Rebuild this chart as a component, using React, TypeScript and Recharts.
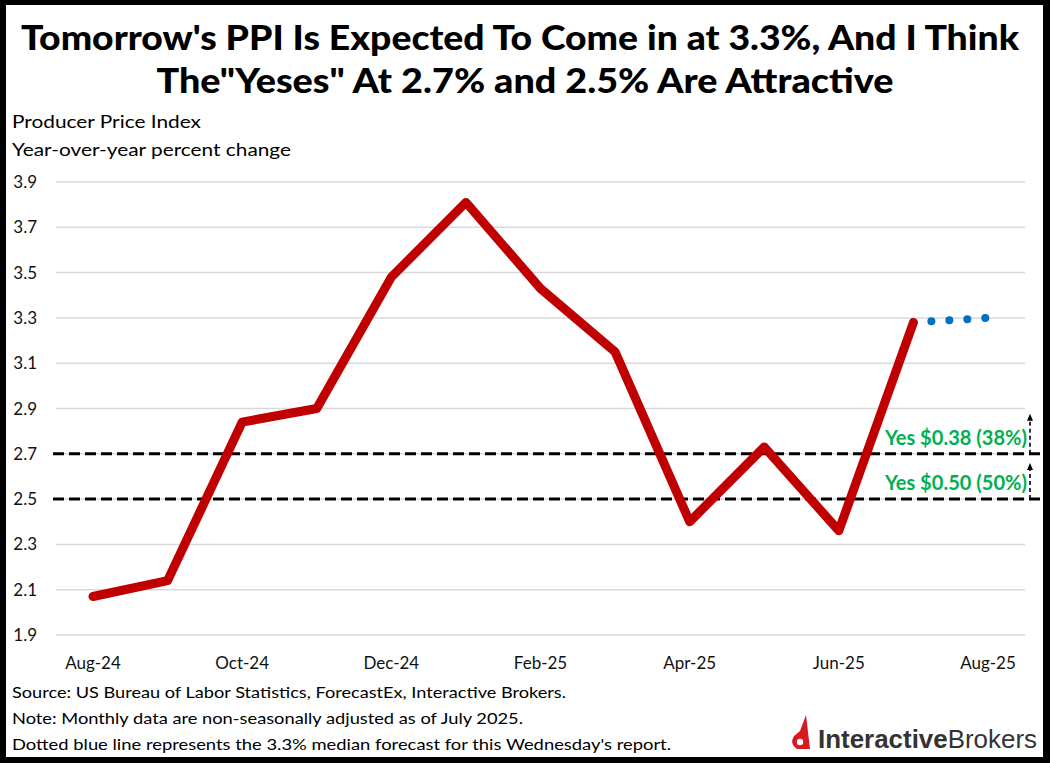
import { LineChart, Line, XAxis, YAxis, CartesianGrid, ReferenceLine } from 'recharts';

// monthly PPI y/y
const months = [
  'Aug-24', 'Sep-24', 'Oct-24', 'Nov-24', 'Dec-24', 'Jan-25', 'Feb-25',
  'Mar-25', 'Apr-25', 'May-25', 'Jun-25', 'Jul-25', 'Aug-25',
];
const ppiValues = [2.07, 2.14, 2.84, 2.9, 3.48, 3.81, 3.43, 3.15, 2.4, 2.73, 2.36, 3.28, null];
const forecastValues = [null, null, null, null, null, null, null, null, null, null, null, 3.28, 3.3];

const xTicks = ['Aug-24', 'Oct-24', 'Dec-24', 'Feb-25', 'Apr-25', 'Jun-25', 'Aug-25'];
const yTicks = [1.9, 2.1, 2.3, 2.5, 2.7, 2.9, 3.1, 3.3, 3.5, 3.7, 3.9];

const yesLevels = [2.7, 2.5];
const yesLabels = ['Yes $0.38 (38%)', 'Yes $0.50 (50%)'];
const yesArrowHeights = [40, 36];

const titleLines = [
  "Tomorrow's PPI Is Expected To Come in at 3.3%, And I Think",
  'The"Yeses" At 2.7% and 2.5% Are Attractive',
];
const subtitleLines = ['Producer Price Index', 'Year-over-year percent change'];
const footerLines = [
  'Source: US Bureau of Labor Statistics, ForecastEx, Interactive Brokers.',
  'Note: Monthly data are non-seasonally adjusted as of July 2025.',
  "Dotted blue line represents the 3.3% median forecast for this Wednesday's report.",
];

const data = months.map((m, i) => ({ month: m, ppi: ppiValues[i], forecast: forecastValues[i] }));

const FONT = 'Lato, "Open Sans", sans-serif';

function yesLine(label: string, arrowH: number) {
  return (props: any) => {
    const { x1, y1, x2 } = props;
    const ax = x2 + 5;
    return (
      <g>
        <line x1={x1 - 3} y1={y1} x2={x2 + 18} y2={y1} stroke="#000" strokeWidth={3} strokeDasharray="11 5" />
        <line x1={ax} y1={y1} x2={ax} y2={y1 - arrowH + 6} stroke="#000" strokeWidth={1.6} strokeDasharray="4 3" />
        <polygon points={`${ax - 3},${y1 - arrowH + 7} ${ax + 3},${y1 - arrowH + 7} ${ax},${y1 - arrowH}`} fill="#000" />
        <text
          x={x2 + 2}
          y={y1 - 9}
          textAnchor="end"
          fill="#00B050"
          fontFamily={FONT}
          fontWeight={700}
          fontSize={20}
          textLength={142}
          lengthAdjust="spacingAndGlyphs"
        >
          {label}
        </text>
      </g>
    );
  };
}

export default function App() {
  return (
    <div style={{ position: 'absolute', left: 0, top: 0, width: 1050, height: 763, background: '#fff', overflow: 'hidden' }}>
      <svg width={1050} height={763} style={{ position: 'absolute', left: 0, top: 0 }}>
        <text x={520} y={50} textAnchor="middle" fontFamily={FONT} fontWeight={900} fontSize={35}
          textLength={998} lengthAdjust="spacingAndGlyphs" fill="#000">{titleLines[0]}</text>
        <text x={525} y={93} textAnchor="middle" fontFamily={FONT} fontWeight={900} fontSize={35}
          textLength={737} lengthAdjust="spacingAndGlyphs" fill="#000">{titleLines[1]}</text>

        <text x={12} y={128} fontFamily={FONT} fontSize={18} fill="#000"
          textLength={189} lengthAdjust="spacingAndGlyphs">{subtitleLines[0]}</text>
        <text x={12} y={156} fontFamily={FONT} fontSize={18} fill="#000"
          textLength={279} lengthAdjust="spacingAndGlyphs">{subtitleLines[1]}</text>

        <text x={12} y={698} fontFamily={FONT} fontSize={16} fill="#000"
          textLength={554} lengthAdjust="spacingAndGlyphs">{footerLines[0]}</text>
        <text x={12} y={724} fontFamily={FONT} fontSize={16} fill="#000"
          textLength={511} lengthAdjust="spacingAndGlyphs">{footerLines[1]}</text>
        <text x={12} y={750} fontFamily={FONT} fontSize={16} fill="#000"
          textLength={659} lengthAdjust="spacingAndGlyphs">{footerLines[2]}</text>

        {/* logo */}
        <path d="M806 715 L810 749 L797 749 Q789 744 794 736 L800 731 Z" fill="#D71920" />
        <circle cx={800} cy={742} r={3.2} fill="#fff" />
        <text x={818} y={748} fontFamily='"Liberation Sans", Arial, sans-serif' fontSize={26} fill="#333"
          textLength={219} lengthAdjust="spacingAndGlyphs">
          <tspan fontWeight={700}>Interactive</tspan>
          <tspan>Brokers</tspan>
        </text>
      </svg>

      <div style={{ position: 'absolute', left: 0, top: 0 }}>
        <LineChart width={1050} height={763} data={data} margin={{ top: 182, right: 25, bottom: 98, left: 0 }}
          style={{ overflow: 'visible' }}>
          <CartesianGrid vertical={false} stroke="#D9D9D9" strokeWidth={1.5} />
          <XAxis
            dataKey="month"
            ticks={xTicks}
            interval={0}
            height={30}
            padding={{ left: 37, right: 37 }}
            axisLine={false}
            tickLine={false}
            tickMargin={16}
            tick={{ fontFamily: FONT, fontSize: 17, fill: '#111' }}
          />
          <YAxis
            domain={[1.9, 3.9]}
            ticks={yTicks}
            width={56}
            axisLine={false}
            tickLine={false}
            tickMargin={13}
            tickFormatter={(v: number) => v.toFixed(1)}
            tick={{ fontFamily: FONT, fontSize: 17, fill: '#111' }}
          />
          {yesLevels.map((lvl, i) => (
            <ReferenceLine key={lvl} y={lvl} ifOverflow="visible" shape={yesLine(yesLabels[i], yesArrowHeights[i])} />
          ))}
          <Line
            dataKey="forecast"
            stroke="#0070C0"
            strokeWidth={8}
            strokeDasharray="0 18"
            strokeLinecap="round"
            dot={false}
            isAnimationActive={false}
          />
          <Line
            dataKey="ppi"
            stroke="#C00000"
            strokeWidth={9}
            strokeLinecap="round"
            strokeLinejoin="round"
            dot={false}
            isAnimationActive={false}
          />
        </LineChart>
      </div>

      <div style={{
        position: 'absolute', left: 0, top: 0, width: 1050, height: 763, boxSizing: 'border-box',
        borderStyle: 'solid', borderColor: '#000', borderWidth: '5px 7px 6px 6px', pointerEvents: 'none',
      }} />
    </div>
  );
}
